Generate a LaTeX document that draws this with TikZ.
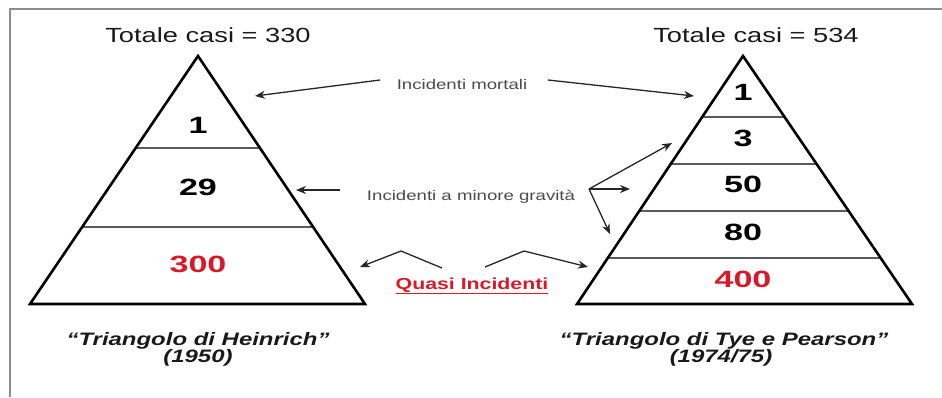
\documentclass[tikz,border=0pt]{standalone}
\usepackage{fontspec}
\setmainfont{Liberation Sans}[FakeStretch=1.33]
\newfontfamily\numfont{Liberation Sans}[FakeStretch=1.45]
\usetikzlibrary{arrows.meta,calc}
\definecolor{qred}{RGB}{215,25,40}
\definecolor{lblgray}{RGB}{75,75,75}
\definecolor{framegray}{RGB}{140,140,140}
\definecolor{bandgray}{RGB}{90,90,90}
\begin{document}
\begin{tikzpicture}[x=1pt,y=-1pt,
  tri/.style={line width=2.6pt, line join=miter, draw=black},
  band/.style={line width=1.2pt, draw=bandgray},
  num/.style={font=\numfont\fontsize{23.5}{24}\selectfont\bfseries, inner sep=0pt},
  ttl/.style={font=\fontsize{20.5}{21}\selectfont, inner sep=0pt, anchor=base, text=black!90},
  lbl/.style={font=\fontsize{14}{15}\selectfont, inner sep=0pt, anchor=base, text=lblgray},
  captxt/.style={font=\fontsize{18}{19}\selectfont\bfseries\itshape, inner sep=0pt, anchor=base, text=black!90},
  arr/.style={-{Stealth[length=10pt,width=8pt]}, line width=1.3pt, black!85}]
\useasboundingbox (0,0) rectangle (942,397);
\draw[framegray, line width=1.6pt] (10,397) -- (10,9) -- (942,9);

% left triangle
\coordinate (LA) at (198,56);
\coordinate (LL) at (30,304);
\coordinate (LR) at (365,304);
\draw[band] ($(LA)!0.371!(LL)$) -- ($(LA)!0.371!(LR)$);
\draw[band] ($(LA)!0.6895!(LL)$) -- ($(LA)!0.6895!(LR)$);
\draw[tri] (LA) -- (LR) -- (LL) -- cycle;

% right triangle
\coordinate (RA) at (743,56);
\coordinate (RL) at (577,304);
\coordinate (RR) at (912,304);
\foreach \t in {0.246,0.4355,0.625,0.8145}
  \draw[band] ($(RA)!\t!(RL)$) -- ($(RA)!\t!(RR)$);
\draw[tri] (RA) -- (RR) -- (RL) -- cycle;

% titles
\node[ttl] (t1) at (208,42.5) {Totale casi = 330};
\node[ttl] (t2) at (756,42.5) {Totale casi = 534};

% numbers
\node[num] (l1) at (198,125) {1};
\node[num] (l2) at (198,187) {29};
\node[num, text=qred] (l3) at (198,264) {300};
\node[num] (r1) at (743,92) {1};
\node[num] (r2) at (743,138) {3};
\node[num] (r3) at (743,184) {50};
\node[num] (r4) at (743,232) {80};
\node[num, text=qred] (r5) at (743,279) {400};

% labels
\node[lbl] (mort) at (462,89) {Incidenti mortali};
\node[lbl] (grav) at (471,200.5) {Incidenti a minore gravità};
\node[font=\fontsize{16}{17}\selectfont\bfseries, text=qred, inner sep=0pt, anchor=base] (quasi) at (472,289) {\underline{Quasi Incidenti}};

% captions
\node[captxt] (c1) at (198,345) {“Triangolo di Heinrich”};
\node[captxt] (c1b) at (198,362) {(1950)};
\node[captxt] (c2) at (724,345) {“Triangolo di Tye e Pearson”};
\node[captxt] (c2b) at (721,362) {(1974/75)};

% arrows: mortali
\coordinate (mL1) at (380,80); \coordinate (mL2) at (255,96);
\coordinate (mR1) at (548,80); \coordinate (mR2) at (694,96);
\draw[arr] (mL1) -- (mL2);
\draw[arr] (mR1) -- (mR2);

% arrows: gravita
\coordinate (gL1) at (340,190); \coordinate (gL2) at (296,190);
\draw[arr] (gL1) -- (gL2);
\coordinate (gO) at (589,189);
\coordinate (g1) at (672,143);
\coordinate (g2) at (630,189);
\coordinate (g3) at (610,234);
\draw[arr] (gO) -- (g1);
\draw[arr] (gO) -- (g2);
\draw[arr] (gO) -- (g3);

% arrows: quasi
\coordinate (qL1) at (442,268); \coordinate (qL2) at (401,251); \coordinate (qL3) at (360,267);
\coordinate (qR1) at (485,267); \coordinate (qR2) at (524,251); \coordinate (qR3) at (588,267);
\draw[arr] (qL1) -- (qL2) -- (qL3);
\draw[arr] (qR1) -- (qR2) -- (qR3);
\end{tikzpicture}
\end{document}
